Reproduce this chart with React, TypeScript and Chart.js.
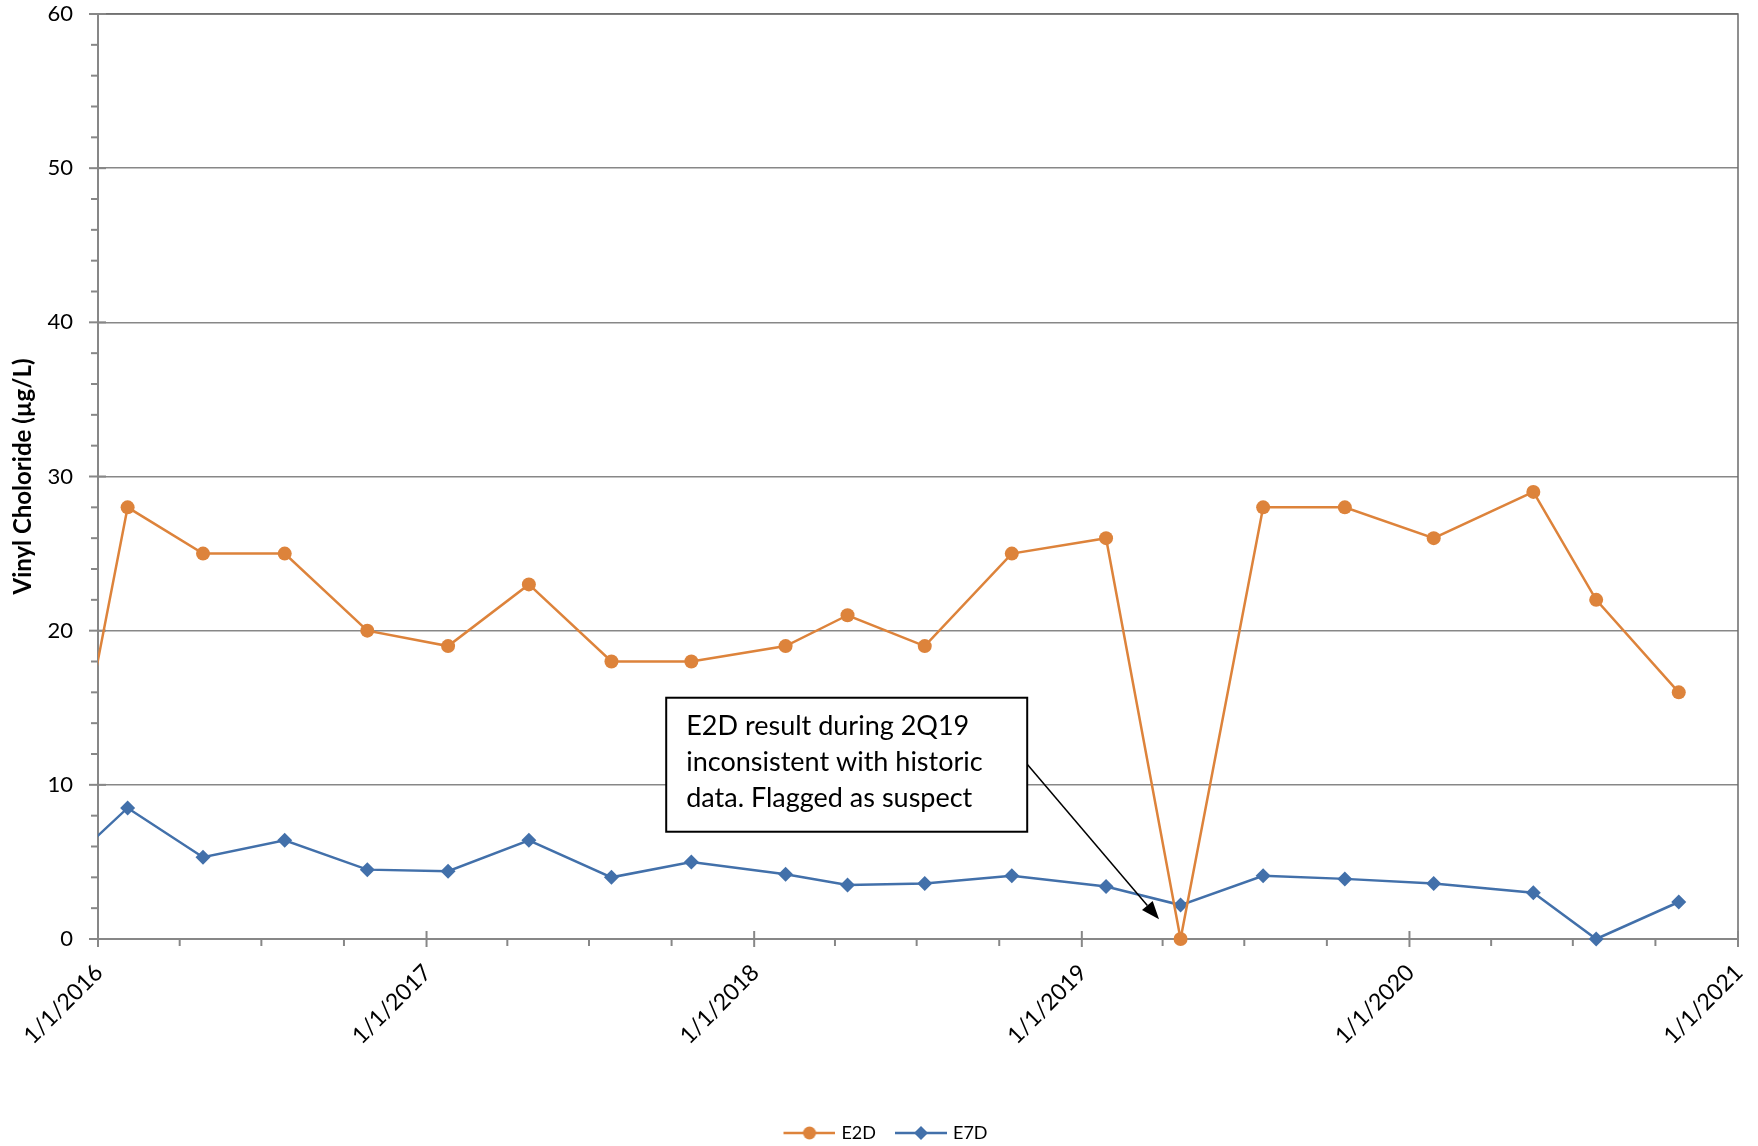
import React, { useEffect, useRef } from 'react';
import { Chart, registerables } from 'chart.js';

Chart.register(...registerables);

// ---- Data ----
const sampleDates = [
  '2015-11-05', '2016-02-03', '2016-04-27', '2016-07-27', '2016-10-27',
  '2017-01-25', '2017-04-25', '2017-07-26', '2017-10-23', '2018-02-05',
  '2018-04-15', '2018-07-10', '2018-10-15', '2019-01-28', '2019-04-21',
  '2019-07-22', '2019-10-21', '2020-01-28', '2020-05-18', '2020-07-27',
  '2020-10-27',
];
const e2dValues = [
  1.0, 28, 25, 25, 20,
  19, 23, 18, 18, 19,
  21, 19, 25, 26, 0,
  28, 28, 26, 29, 22,
  16,
];
const e7dValues = [
  3.6, 8.5, 5.3, 6.4, 4.5,
  4.4, 6.4, 4.0, 5.0, 4.2,
  3.5, 3.6, 4.1, 3.4, 2.2,
  4.1, 3.9, 3.6, 3.0, 0,
  2.4,
];
const yearTicks = [2016, 2017, 2018, 2019, 2020, 2021];
const minorMonths = [4, 7, 10];
const yMajorTicks = [0, 10, 20, 30, 40, 50, 60];
const yMinorStep = 2;
const seriesNames = ['E2D', 'E7D'];
const annotationLines = [
  'E2D result during 2Q19',
  'inconsistent with historic',
  'data. Flagged as suspect',
];

const ORANGE = '#DD833B';
const BLUE = '#4270AA';
const GRAY = '#878787';
const FRAME = '#6b6b6b';
const FONT = 'Lato, "Open Sans", sans-serif';

const toMs = (s: string) => {
  const [y, m, d] = s.split('-').map(Number);
  return Date.UTC(y, m - 1, d);
};

function makeLegendImage(color: string, marker: 'circle' | 'diamond') {
  const c = document.createElement('canvas');
  const margin = 18;
  const len = 52;
  c.width = len + margin;
  c.height = 16;
  const ctx = c.getContext('2d')!;
  ctx.strokeStyle = color;
  ctx.fillStyle = color;
  ctx.lineWidth = 2.5;
  ctx.beginPath();
  ctx.moveTo(margin, 8);
  ctx.lineTo(margin + len, 8);
  ctx.stroke();
  const cx = margin + len / 2;
  ctx.beginPath();
  if (marker === 'circle') {
    ctx.arc(cx, 8, 6.5, 0, Math.PI * 2);
  } else {
    ctx.moveTo(cx, 1);
    ctx.lineTo(cx + 7, 8);
    ctx.lineTo(cx, 15);
    ctx.lineTo(cx - 7, 8);
    ctx.closePath();
  }
  ctx.fill();
  return c;
}

const annotation = {
  boxDate: '2017-09-25',
  boxValue: 15.65,
  boxWidth: 361,
  boxHeight: 134,
  textInset: 20,
  firstLine: 29,
  lineGap: 36,
  fontSize: 27,
  arrowFromValue: 11.33,
  arrowToDate: '2019-03-28',
  arrowToValue: 1.28,
};

const decorPlugin = {
  id: 'decor',
  beforeDatasetsDraw(chart: any) {
    const { ctx, chartArea, scales } = chart;
    const xs = scales.x;
    const ys = scales.y;
    ctx.save();
    // top and right plot frame
    ctx.strokeStyle = FRAME;
    ctx.lineWidth = 1.5;
    ctx.beginPath();
    ctx.moveTo(chartArea.left, chartArea.top);
    ctx.lineTo(chartArea.right, chartArea.top);
    ctx.lineTo(chartArea.right, chartArea.bottom);
    ctx.stroke();
    ctx.strokeStyle = GRAY;
    ctx.lineWidth = 2;
    // y ticks
    for (let v = 0; v <= 60; v += yMinorStep) {
      const py = ys.getPixelForValue(v);
      const major = yMajorTicks.includes(v);
      ctx.beginPath();
      ctx.moveTo(chartArea.left - (major ? 9 : 7), py);
      ctx.lineTo(chartArea.left + (major && v !== 0 ? 8 : 0), py);
      ctx.stroke();
    }
    // x ticks
    yearTicks.forEach((yr, i) => {
      const px = xs.getPixelForValue(Date.UTC(yr, 0, 1));
      ctx.beginPath();
      ctx.moveTo(px, chartArea.bottom - (i === 0 ? 0 : 8));
      ctx.lineTo(px, chartArea.bottom + 8);
      ctx.stroke();
      if (i < yearTicks.length - 1) {
        minorMonths.forEach((m) => {
          const mx = xs.getPixelForValue(Date.UTC(yr, m - 1, 1));
          ctx.beginPath();
          ctx.moveTo(mx, chartArea.bottom);
          ctx.lineTo(mx, chartArea.bottom + 7);
          ctx.stroke();
        });
      }
    });
    ctx.restore();
  },
  afterDatasetsDraw(chart: any) {
    const { ctx, scales } = chart;
    const xs = scales.x;
    const ys = scales.y;
    const bx = xs.getPixelForValue(toMs(annotation.boxDate));
    const by = ys.getPixelForValue(annotation.boxValue);
    const bw = annotation.boxWidth;
    const bh = annotation.boxHeight;
    ctx.save();
    // arrow
    const ax0 = bx + bw;
    const ay0 = ys.getPixelForValue(annotation.arrowFromValue);
    const ax1 = xs.getPixelForValue(toMs(annotation.arrowToDate));
    const ay1 = ys.getPixelForValue(annotation.arrowToValue);
    const ang = Math.atan2(ay1 - ay0, ax1 - ax0);
    const headLen = 18;
    const headHalf = 7;
    const hx = ax1 - Math.cos(ang) * headLen;
    const hy = ay1 - Math.sin(ang) * headLen;
    ctx.strokeStyle = '#000';
    ctx.fillStyle = '#000';
    ctx.lineWidth = 1.5;
    ctx.beginPath();
    ctx.moveTo(ax0, ay0);
    ctx.lineTo(hx, hy);
    ctx.stroke();
    ctx.beginPath();
    ctx.moveTo(ax1, ay1);
    ctx.lineTo(hx - Math.sin(ang) * headHalf, hy + Math.cos(ang) * headHalf);
    ctx.lineTo(hx + Math.sin(ang) * headHalf, hy - Math.cos(ang) * headHalf);
    ctx.closePath();
    ctx.fill();
    // box
    ctx.fillStyle = '#fff';
    ctx.fillRect(bx, by, bw, bh);
    ctx.lineWidth = 2;
    ctx.strokeRect(bx, by, bw, bh);
    ctx.fillStyle = '#000';
    ctx.font = `${annotation.fontSize}px ${FONT}`;
    ctx.textBaseline = 'middle';
    ctx.textAlign = 'left';
    annotationLines.forEach((t, i) => {
      ctx.fillText(t, bx + annotation.textInset, by + annotation.firstLine + i * annotation.lineGap);
    });
    ctx.restore();
  },
};

export default function App() {
  const ref = useRef<HTMLCanvasElement>(null);
  useEffect(() => {
    if (!ref.current) return;
    const imgs = [makeLegendImage(ORANGE, 'circle'), makeLegendImage(BLUE, 'diamond')];
    const xMin = Date.UTC(yearTicks[0], 0, 1);
    const xMax = Date.UTC(yearTicks[yearTicks.length - 1], 0, 1);
    const chart = new Chart(ref.current, {
      type: 'line',
      data: {
        datasets: [
          {
            label: seriesNames[0],
            data: sampleDates.map((d, i) => ({ x: toMs(d), y: e2dValues[i] })),
            borderColor: ORANGE,
            backgroundColor: ORANGE,
            borderWidth: 2.5,
            pointStyle: 'circle',
            pointRadius: 7,
            pointBorderWidth: 0,
            pointBackgroundColor: ORANGE,
            tension: 0,
            clip: { left: 0, top: 10, right: 10, bottom: 10 } as any,
          },
          {
            label: seriesNames[1],
            data: sampleDates.map((d, i) => ({ x: toMs(d), y: e7dValues[i] })),
            borderColor: BLUE,
            backgroundColor: BLUE,
            borderWidth: 2.5,
            pointStyle: 'rectRot',
            pointRadius: 7.5,
            pointBorderWidth: 0,
            pointBackgroundColor: BLUE,
            tension: 0,
            clip: { left: 0, top: 10, right: 10, bottom: 10 } as any,
          },
        ],
      },
      options: {
        animation: false,
        responsive: false,
        events: [],
        layout: { padding: { top: 14, right: 20, left: 18, bottom: -6 } },
        scales: {
          x: {
            type: 'linear',
            min: xMin,
            max: xMax,
            afterBuildTicks: (s: any) => {
              s.ticks = yearTicks.map((y) => ({ value: Date.UTC(y, 0, 1) }));
            },
            afterFit: (s: any) => {
              s.height = 181;
            },
            ticks: {
              autoSkip: false,
              minRotation: 45,
              maxRotation: 45,
              padding: 0,
              labelOffset: 1,
              color: '#000',
              font: { size: 23, family: FONT },
              callback: (v: any) => {
                const d = new Date(Number(v));
                return `${d.getUTCMonth() + 1}/${d.getUTCDate()}/${d.getUTCFullYear()}`;
              },
            },
            grid: {
              display: true,
              drawOnChartArea: false,
              drawTicks: true,
              tickLength: 20,
              tickColor: 'rgba(0,0,0,0)',
            },
            border: { display: true, color: GRAY, width: 2 },
          },
          y: {
            min: 0,
            max: 60,
            afterFit: (s: any) => {
              s.width = 80;
            },
            ticks: {
              stepSize: 10,
              padding: 0,
              color: '#000',
              font: { size: 22, family: FONT },
            },
            grid: {
              color: GRAY,
              lineWidth: 1.5,
              drawTicks: true,
              tickLength: 25,
              tickColor: 'rgba(0,0,0,0)',
            },
            border: { display: true, color: GRAY, width: 2 },
            title: {
              display: true,
              text: 'Vinyl Choloride (µg/L)',
              color: '#000',
              font: { size: 24, weight: 'bold', family: FONT },
              padding: { top: -9, bottom: 0 },
            },
          },
        },
        plugins: {
          tooltip: { enabled: false },
          legend: {
            position: 'bottom',
            labels: {
              usePointStyle: true,
              pointStyleWidth: 64,
              padding: 4,
              color: '#000',
              font: { size: 18, family: FONT },
              generateLabels: (c: any) =>
                c.data.datasets.map((ds: any, i: number) => ({
                  text: ds.label,
                  pointStyle: imgs[i],
                  fillStyle: ds.borderColor,
                  strokeStyle: ds.borderColor,
                  lineWidth: 0,
                  hidden: false,
                  datasetIndex: i,
                  fontColor: '#000',
                })),
            },
          },
        },
      },
      plugins: [decorPlugin],
    });
    return () => chart.destroy();
  }, []);
  return (
    <div style={{ position: 'absolute', left: 0, top: 0, width: 1758, height: 1146, background: '#fff' }}>
      <canvas ref={ref} width={1758} height={1146} />
    </div>
  );
}
